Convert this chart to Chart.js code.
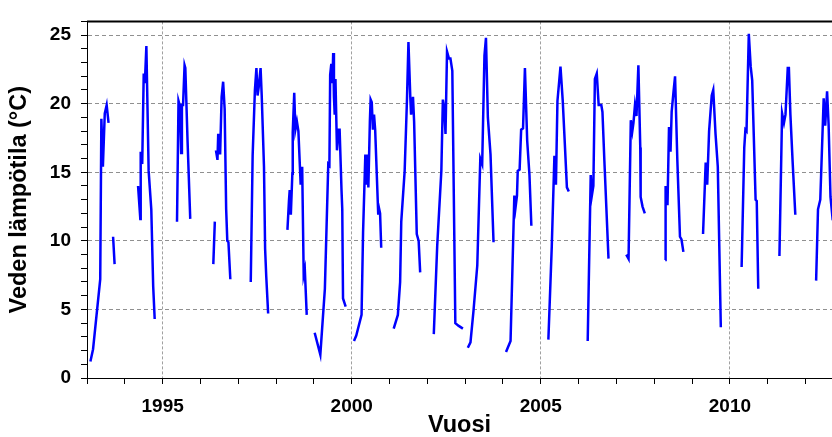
<!DOCTYPE html>
<html>
<head>
<meta charset="utf-8">
<script src="https://cdn.jsdelivr.net/npm/chart.js@4/dist/chart.umd.min.js"></script>
<style>
  body { margin: 0; background: #fff; }
  #wrap { width: 832px; height: 437px; }
</style>
</head>
<body>
<div id="wrap"><canvas id="chart" width="832" height="437"></canvas></div>
<script>
// vuosi (desimaalivuosi) ja veden lämpötila, null = katko mittauksissa
const vuosi = [
  1993.09, 1993.16, 1993.35, 1993.38, 1993.42, 1993.47, 1993.52, 1993.57, 1993.60,
  1993.69, 1993.73, 1993.80,
  1994.35, 1994.41, 1994.42, 1994.46, 1994.50, 1994.53, 1994.57, 1994.63, 1994.70, 1994.75, 1994.79, 1994.85,
  1995.38, 1995.42, 1995.46, 1995.49, 1995.51, 1995.54, 1995.58, 1995.60, 1995.66, 1995.73, 1995.80,
  1996.34, 1996.38, 1996.39,
  1996.41, 1996.45, 1996.47, 1996.52, 1996.56, 1996.60, 1996.64, 1996.68, 1996.71, 1996.74, 1996.79, 1996.85,
  1997.33, 1997.38, 1997.44, 1997.48, 1997.51, 1997.54, 1997.59, 1997.62, 1997.68, 1997.71, 1997.74, 1997.79, 1997.85,
  1998.30, 1998.34, 1998.36, 1998.39, 1998.43, 1998.44, 1998.48, 1998.51, 1998.55, 1998.59, 1998.65, 1998.69, 1998.73, 1998.76, 1998.81, 1998.90,
  1999.02, 1999.17, 1999.29, 1999.38, 1999.41, 1999.43, 1999.46, 1999.49, 1999.51, 1999.53, 1999.55, 1999.57, 1999.61, 1999.65, 1999.68, 1999.73, 1999.75, 1999.77, 1999.84, 1999.95,
  2000.06, 2000.12, 2000.26, 2000.30, 2000.36, 2000.39, 2000.42, 2000.44, 2000.48, 2000.50, 2000.53, 2000.56, 2000.59, 2000.62, 2000.70, 2000.72, 2000.75, 2000.78, 2000.90,
  2001.11, 2001.22, 2001.28, 2001.31, 2001.40, 2001.46, 2001.50, 2001.55, 2001.57, 2001.62, 2001.65, 2001.72, 2001.77, 2001.81, 2001.95,
  2002.17, 2002.26, 2002.37, 2002.41, 2002.45, 2002.48, 2002.52, 2002.57, 2002.61, 2002.66, 2002.74, 2002.83, 2002.94, 2003.00,
  2003.07, 2003.14, 2003.22, 2003.32, 2003.40, 2003.45, 2003.51, 2003.55, 2003.60, 2003.67, 2003.75, 2003.90,
  2004.08, 2004.20, 2004.30, 2004.33, 2004.37, 2004.39, 2004.44, 2004.48, 2004.53, 2004.58, 2004.64, 2004.70, 2004.75, 2004.90,
  2005.20, 2005.29, 2005.36, 2005.40, 2005.44, 2005.52, 2005.58, 2005.64, 2005.69, 2005.74, 2005.90,
  2006.24, 2006.32, 2006.35, 2006.39, 2006.43, 2006.48, 2006.53, 2006.60, 2006.63, 2006.68, 2006.79, 2006.90,
  2007.26, 2007.32, 2007.38, 2007.42, 2007.45, 2007.49, 2007.53, 2007.58, 2007.63, 2007.64, 2007.69, 2007.75, 2007.90,
  2008.29, 2008.30, 2008.35, 2008.39, 2008.43, 2008.46, 2008.51, 2008.55, 2008.61, 2008.68, 2008.72, 2008.77, 2008.90,
  2009.29, 2009.36, 2009.40, 2009.45, 2009.52, 2009.56, 2009.62, 2009.68, 2009.76, 2009.90,
  2010.31, 2010.38, 2010.41, 2010.44, 2010.50, 2010.55, 2010.59, 2010.68, 2010.71, 2010.75, 2010.90,
  2011.31, 2011.38, 2011.43, 2011.47, 2011.53, 2011.56, 2011.60, 2011.66, 2011.73, 2011.90,
  2012.28, 2012.33, 2012.39, 2012.48, 2012.52, 2012.57, 2012.61, 2012.66, 2012.72
];
const lampotila = [
  1.2, 2.1, 7.2, 18.9, 15.4, 19.3, 19.9, 18.6, null,
  10.3, 8.3, null,
  14.0, 11.6, 16.5, 15.6, 22.2, 21.5, 24.2, 15.1, 12.3, 6.7, 4.3, null,
  11.4, 20.2, 19.8, 16.4, 19.9, 19.9, 22.8, 22.6, 17.2, 11.6, null,
  8.3, 11.4, null,
  16.6, 15.9, 17.8, 16.3, 20.5, 21.6, 19.6, 12.3, 10.0, 9.9, 7.2, null,
  7.0, 16.2, 21.0, 22.6, 20.6, 21.2, 22.6, 20.6, 15.4, 9.4, 7.4, 4.7, null,
  10.8, 12.9, 13.7, 11.9, 14.9, 17.9, 20.8, 18.1, 18.7, 18.0, 14.1, 15.4, 7.5, 7.9, 4.6, null,
  3.3, 1.7, 6.5, 15.6, 15.5, 22.1, 22.9, 21.5, 23.7, 20.5, 19.2, 21.8, 16.6, 18.1, 18.1, 13.7, 12.3, 5.8, 5.2, null,
  2.7, 3.1, 4.6, 10.6, 16.3, 14.1, 16.3, 13.9, 18.7, 20.3, 20.1, 18.1, 19.2, 18.1, 12.0, 12.4, 12.0, 9.5, null,
  3.6, 4.6, 7.0, 11.4, 15.1, 20.2, 24.5, 20.4, 19.2, 20.5, 18.7, 10.5, 10.0, 7.7, null,
  3.2, 9.6, 15.1, 20.3, 19.6, 17.8, 23.8, 23.3, 23.3, 22.4, 4.0, 3.8, 3.6, null,
  2.2, 2.6, 4.9, 8.2, 16.0, 15.6, 23.5, 24.8, 19.0, 16.3, 9.9, null,
  1.9, 2.7, 13.3, 12.4, 13.3, 15.1, 15.2, 18.1, 18.2, 22.6, 17.3, 14.8, 11.1, null,
  2.8, 9.6, 16.2, 14.1, 20.2, 22.7, 20.2, 16.8, 13.9, 13.6, null,
  2.7, 14.8, 13.3, 14.0, 21.8, 22.2, 19.9, 19.9, 19.4, 15.9, 8.7, null,
  9.0, 8.7, 18.8, 18.0, 18.6, 19.9, 19.1, 22.8, 16.8, 13.2, 12.5, 12.0, null,
  8.6, 14.0, 12.6, 18.3, 16.5, 19.4, 20.9, 22.0, 15.9, 10.3, 10.1, 9.2, null,
  10.5, 15.7, 14.1, 18.0, 20.6, 21.0, 17.8, 15.4, 3.7, null,
  8.1, 16.8, 18.1, 18.0, 25.1, 22.7, 21.7, 13.0, 12.9, 6.5, null,
  8.9, 19.3, 18.6, 19.2, 22.6, 22.6, 19.2, 15.7, 11.9, null,
  7.1, 12.3, 13.0, 20.4, 18.4, 20.9, 18.5, 13.2, 11.5
];
const xTicks = [1993, 1994, 1995, 1996, 1997, 1998, 1999, 2000, 2001, 2002, 2003,
  2004, 2005, 2006, 2007, 2008, 2009, 2010, 2011, 2012];
const X_MIN = 1993, X_MAX = 2012.7;
const Y_MIN = 0, Y_MAX = 26;

const FONT = "'Liberation Sans', Arial, sans-serif";

const topBorder = {
  id: 'topBorder',
  afterDraw(chart) {
    const {ctx, chartArea} = chart;
    ctx.save();
    ctx.strokeStyle = '#000';
    ctx.lineWidth = 2;
    ctx.beginPath();
    ctx.moveTo(chartArea.left, chartArea.top);
    ctx.lineTo(chartArea.right, chartArea.top);
    ctx.stroke();
    ctx.restore();
  }
};

const points = vuosi.map((v, i) => ({x: v, y: lampotila[i]}));

new Chart(document.getElementById('chart'), {
  type: 'line',
  data: {
    datasets: [{
      data: points,
      borderColor: '#0000ff',
      borderWidth: 2.5,
      pointRadius: 0,
      tension: 0,
      spanGaps: false,
      fill: false
    }]
  },
  options: {
    responsive: false,
    animation: false,
    layout: { padding: { top: 15, right: 0, left: 0, bottom: 0 } },
    plugins: { legend: { display: false }, tooltip: { enabled: false } },
    scales: {
      x: {
        type: 'linear',
        min: X_MIN,
        max: X_MAX,
        afterFit: (s) => { s.height = 59; },
        afterBuildTicks: (s) => { s.ticks = xTicks.map(v => ({value: v})); },
        grid: {
          color: (c) => (c.tick && c.tick.value % 5 === 0 && c.tick.value !== X_MIN) ? '#a0a0a0' : 'rgba(0,0,0,0)',
          tickColor: '#000',
          tickLength: 6,
          lineWidth: 1
        },
        border: { display: true, color: '#000', width: 1, dash: [3, 2] },
        ticks: {
          autoSkip: false,
          maxRotation: 0,
          padding: 11,
          color: '#000',
          font: { family: FONT, size: 19, weight: 'bold' },
          callback: (v) => (v % 5 === 0 ? String(v) : '')
        },
        title: {
          display: true,
          text: 'Vuosi',
          color: '#000',
          font: { family: FONT, size: 23.5, weight: 'bold', lineHeight: 1 },
          padding: { top: 0, bottom: 0 }
        }
      },
      y: {
        min: Y_MIN,
        max: Y_MAX,
        afterFit: (s) => { s.width = 87; },
        grid: {
          color: (c) => (c.tick && c.tick.value % 5 === 0 && c.tick.value !== 0) ? '#909090' : 'rgba(0,0,0,0)',
          tickColor: '#000',
          tickLength: 6,
          lineWidth: 1
        },
        border: { display: true, color: '#000', width: 1, dash: [4, 3] },
        ticks: {
          stepSize: 1,
          autoSkip: false,
          padding: 10,
          color: '#000',
          font: { family: FONT, size: 19, weight: 'bold' },
          callback: (v) => (v % 5 === 0 ? String(v) : '')
        },
        title: {
          display: true,
          text: 'Veden lämpötila (°C)',
          color: '#000',
          font: { family: FONT, size: 23.5, weight: 'bold', lineHeight: 1 },
          padding: { top: 8, bottom: 0 }
        }
      }
    }
  },
  plugins: [topBorder]
});
</script>
</body>
</html>
